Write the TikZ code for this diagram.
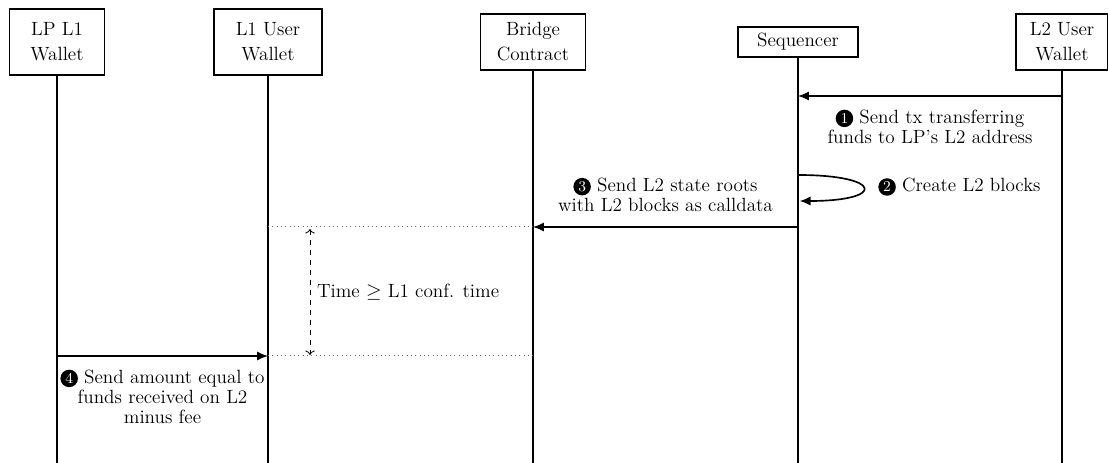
\documentclass[tikz,border=0pt]{standalone}
\usetikzlibrary{arrows.meta}

% black disc with a white step number
\newcommand{\stepmark}[1]{\tikz[baseline=(stepdisc.base)]\node[circle,fill=black,text=white,inner sep=0pt,minimum size=10.5pt,font=\fontsize{9}{9}\selectfont](stepdisc){#1};}

\begin{document}
\begin{tikzpicture}[x=0.6pt,y=-0.6pt,
  actor/.style={draw,line width=1pt,align=center,inner sep=0pt,font=\fontsize{11.5}{15}\selectfont},
  life/.style={line width=1pt},
  msg/.style={line width=1pt,-{Latex[length=6.5pt,width=5.5pt]}},
  note/.style={align=center,inner sep=0pt,font=\fontsize{11.5}{12}\selectfont},
  guide/.style={dotted,line width=0.6pt,black!60},
  span/.style={dashed,line width=0.5pt,{To}-{To}}]
\useasboundingbox (0,0) rectangle (1108,463);

% participants
\node[actor,minimum width=57pt,minimum height=39.6pt] (lp) at (57,42) {LP L1\\Wallet};
\node[actor,minimum width=64.8pt,minimum height=39.6pt] (l1u) at (268,42) {L1 User\\Wallet};
\node[actor,minimum width=63pt,minimum height=33.6pt] (br) at (533,42) {Bridge\\Contract};
\node[actor,minimum width=72pt,minimum height=18pt] (sq) at (798,42) {Sequencer};
\node[actor,minimum width=55.2pt,minimum height=33.6pt] (l2) at (1062,42) {L2 User\\Wallet};

% rows of the messages
\coordinate (bot) at (0,463);
\coordinate (r1) at (0,96);
\coordinate (r2a) at (0,175);
\coordinate (r2b) at (0,201);
\coordinate (r3) at (0,227);
\coordinate (r4) at (0,356);

% lifelines
\foreach \p in {lp,l1u,br,sq,l2}
  \draw[life] (\p.south) -- (\p.south |- bot);

% 1: L2 user -> sequencer
\draw[msg] (l2 |- r1) -- (sq |- r1)
  node[note,midway,below=8pt] (n1) {\stepmark{1} Send tx transferring\\funds to LP’s L2 address};

% 2: sequencer builds blocks
\draw[msg] (sq |- r2a) .. controls +(85,0) and +(87,0) .. ([xshift=1pt]sq |- r2b);
\node[note,anchor=west] (n2) at (878,187) {\stepmark{2} Create L2 blocks};

% 3: sequencer -> bridge contract
\draw[msg] (sq |- r3) -- (br |- r3)
  node[note,midway,above=9pt] (n3) {\stepmark{3} Send L2 state roots\\with L2 blocks as calldata};

% waiting period on L1
\draw[guide] (l1u |- r3) -- (br |- r3);
\draw[guide] (l1u |- r4) -- (br |- r4);
\coordinate (t1) at (310,229);
\coordinate (t2) at (310,355);
\draw[span] (t1) -- (t2)
  node[note,midway,right=4pt] (nt) {Time $\geq$ L1 conf. time};

% 4: LP pays the user on L1
\draw[msg] (lp |- r4) -- (l1u |- r4)
  node[note,midway,below=8pt] (n4) {\stepmark{4} Send amount equal to\\funds received on L2\\minus fee};
\end{tikzpicture}
\end{document}
